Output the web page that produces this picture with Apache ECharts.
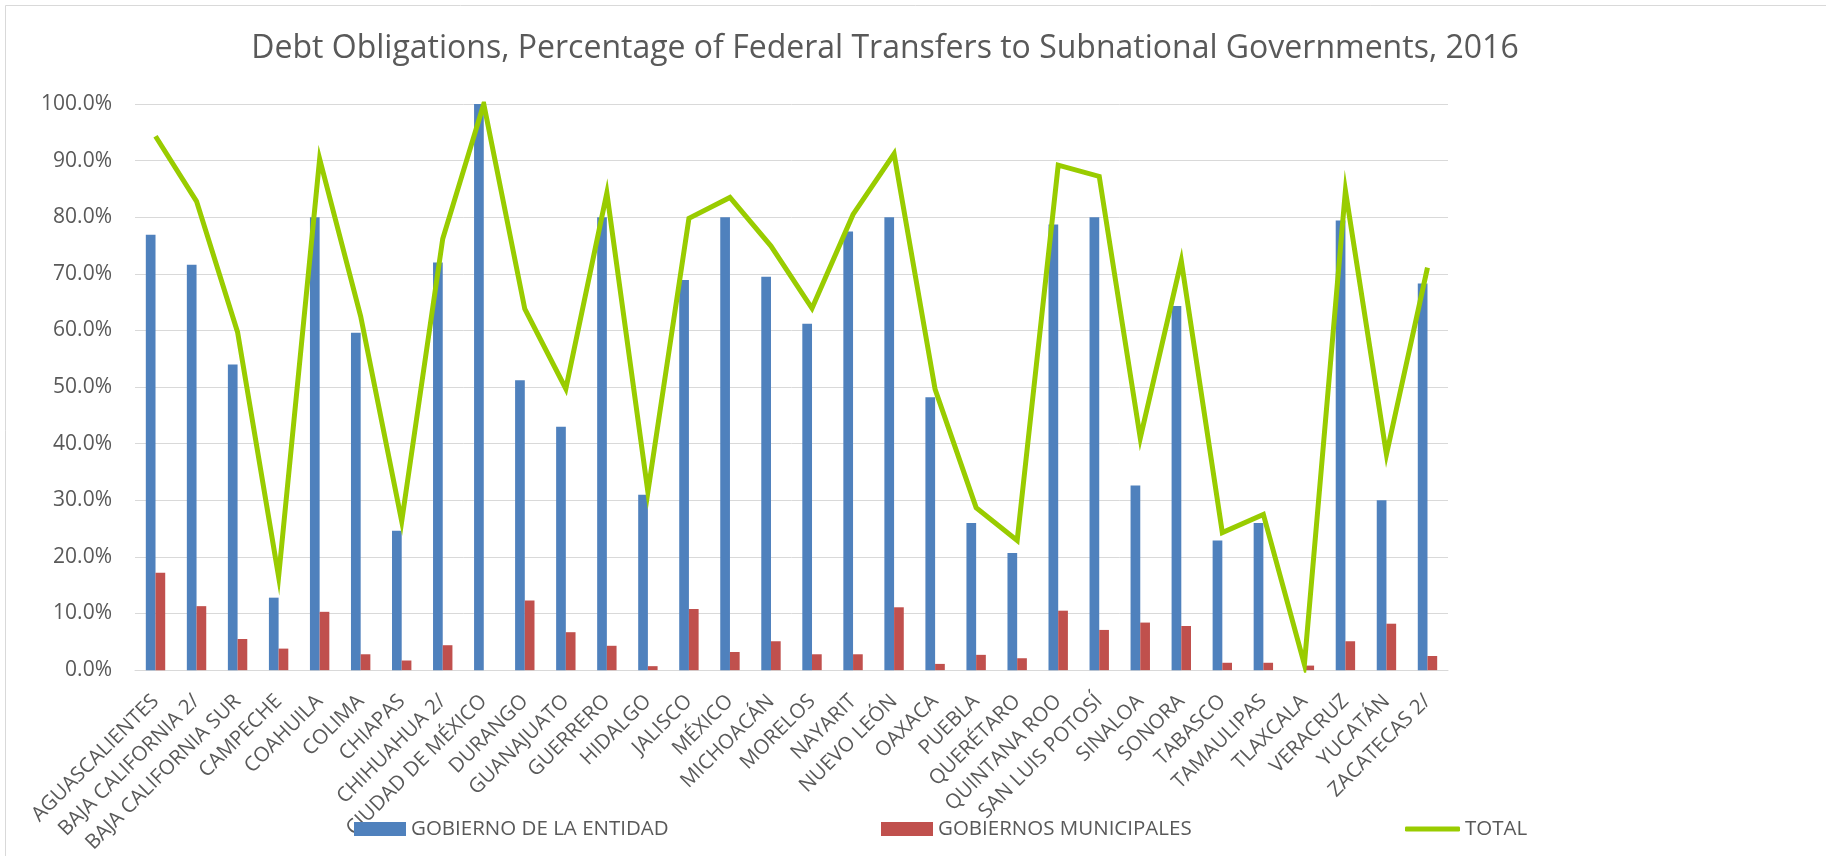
<!DOCTYPE html>
<html>
<head>
<meta charset="utf-8">
<script src="https://cdn.jsdelivr.net/npm/echarts@6/dist/echarts.min.js"></script>
<style>
  html, body { margin: 0; padding: 0; background: #ffffff; }
  #chart { width: 1826px; height: 856px; }
</style>
</head>
<body>
<div id="chart"></div>
<script>
// States of Mexico (category axis)
const states = [
  'AGUASCALIENTES', 'BAJA CALIFORNIA 2/', 'BAJA CALIFORNIA SUR', 'CAMPECHE',
  'COAHUILA', 'COLIMA', 'CHIAPAS', 'CHIHUAHUA 2/', 'CIUDAD DE MÉXICO',
  'DURANGO', 'GUANAJUATO', 'GUERRERO', 'HIDALGO', 'JALISCO', 'MÉXICO',
  'MICHOACÁN', 'MORELOS', 'NAYARIT', 'NUEVO LEÓN', 'OAXACA', 'PUEBLA',
  'QUERÉTARO', 'QUINTANA ROO', 'SAN LUIS POTOSÍ', 'SINALOA', 'SONORA',
  'TABASCO', 'TAMAULIPAS', 'TLAXCALA', 'VERACRUZ', 'YUCATÁN', 'ZACATECAS 2/'
];

// Debt obligations as % of federal transfers
const stateGov = [
  76.9, 71.6, 54.0, 12.8, 80.0, 59.6, 24.6, 72.0, 100.0,
  51.2, 43.0, 80.0, 31.0, 68.9, 80.0, 69.5, 61.2, 77.5, 80.0,
  48.2, 26.0, 20.7, 78.7, 80.0, 32.6, 64.3, 22.9, 26.0, 0.0,
  79.4, 30.0, 68.3
];
const municipalGov = [
  17.2, 11.3, 5.5, 3.8, 10.3, 2.8, 1.7, 4.4, 0.0,
  12.3, 6.7, 4.3, 0.7, 10.8, 3.2, 5.1, 2.8, 2.8, 11.1,
  1.1, 2.7, 2.1, 10.5, 7.1, 8.4, 7.8, 1.3, 1.3, 0.8,
  5.1, 8.2, 2.5
];
const total = [
  94.3, 82.8, 59.7, 16.5, 90.3, 62.5, 26.3, 76.2, 100.0,
  63.8, 49.7, 84.3, 31.5, 79.8, 83.5, 74.9, 63.9, 80.5, 91.2,
  49.6, 28.7, 22.9, 89.2, 87.2, 41.0, 72.3, 24.3, 27.5, 1.0,
  84.7, 38.1, 71.1
];

const seriesNames = ['GOBIERNO DE LA ENTIDAD', 'GOBIERNOS MUNICIPALES', 'TOTAL'];
const titleText = 'Debt Obligations, Percentage of Federal Transfers to Subnational Governments, 2016';

const FONT = '"Open Sans", "Noto Sans", sans-serif';
const TEXT_COLOR = '#595959';
const BLUE = '#4F81BD';
const RED = '#C0504D';
const GREEN = '#99CC00';

const chart = echarts.init(document.getElementById('chart'), null, { renderer: 'canvas' });

// One legend block per series, spread across the bottom
function legendAt(name, left, icon, w, h) {
  return {
    data: [name],
    left: left,
    top: 815,
    padding: 0,
    icon: icon,
    itemWidth: w,
    itemHeight: h,
    selectedMode: false,
    textStyle: { fontFamily: FONT, fontSize: 20.5, color: TEXT_COLOR, lineHeight: 28, padding: [0, 0, 0, 0] }
  };
}

chart.setOption({
  backgroundColor: '#ffffff',
  animation: false,
  textStyle: { fontFamily: FONT },
  title: {
    text: titleText,
    left: 880,
    top: 28,
    textAlign: 'center',
    textStyle: { fontFamily: FONT, fontSize: 32, fontWeight: 'normal', color: TEXT_COLOR }
  },
  graphic: [
    { type: 'line', shape: { x1: 5.5, y1: 5.5, x2: 1826, y2: 5.5 }, style: { stroke: '#d9d9d9', lineWidth: 1 } },
    { type: 'line', shape: { x1: 5.5, y1: 5.5, x2: 5.5, y2: 856 }, style: { stroke: '#d9d9d9', lineWidth: 1 } }
  ],
  legend: [
    legendAt(seriesNames[0], 354, 'rect', 52, 14),
    legendAt(seriesNames[1], 881, 'rect', 52, 14),
    legendAt(seriesNames[2], 1405, 'roundRect', 55, 5)
  ],
  grid: { left: 135, right: 378, top: 104, bottom: 185, containLabel: false },
  xAxis: {
    type: 'category',
    data: states,
    boundaryGap: true,
    axisTick: { show: false },
    axisLine: { show: true, lineStyle: { color: '#d9d9d9', width: 1 } },
    axisLabel: {
      interval: 0,
      rotate: 45,
      margin: 28,
      fontFamily: FONT,
      fontSize: 20.5,
      color: TEXT_COLOR
    }
  },
  yAxis: {
    type: 'value',
    min: 0,
    max: 100,
    interval: 10,
    axisLine: { show: false },
    axisTick: { show: false },
    splitLine: { lineStyle: { color: '#d9d9d9', width: 1 } },
    axisLabel: {
      margin: 23,
      fontFamily: FONT,
      fontSize: 21,
      color: TEXT_COLOR,
      formatter: v => v.toFixed(1) + '%'
    }
  },
  series: [
    {
      name: seriesNames[0],
      type: 'bar',
      data: stateGov,
      barWidth: 9.7,
      barGap: '0%',
      itemStyle: { color: BLUE }
    },
    {
      name: seriesNames[1],
      type: 'bar',
      data: municipalGov,
      barWidth: 9.7,
      barGap: '0%',
      itemStyle: { color: RED }
    },
    {
      name: seriesNames[2],
      type: 'line',
      data: total,
      symbol: 'none',
      itemStyle: { color: GREEN },
      lineStyle: { color: GREEN, width: 5, join: 'miter' },
      z: 3
    }
  ]
});
</script>
</body>
</html>
